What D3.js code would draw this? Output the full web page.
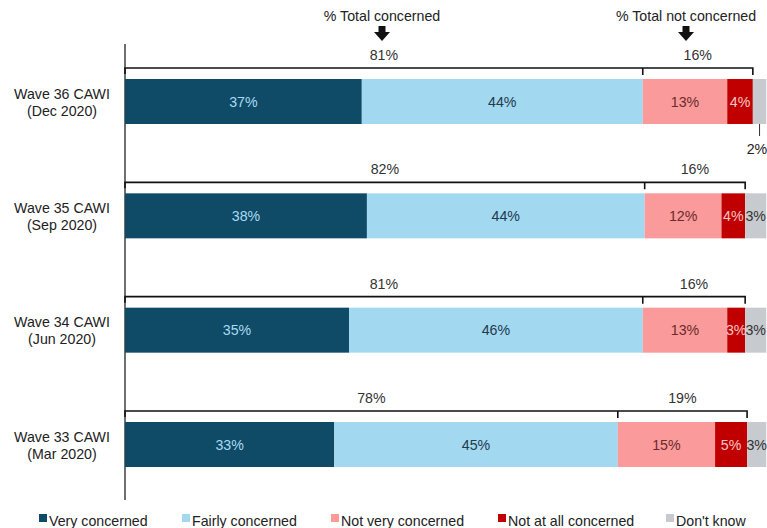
<!DOCTYPE html>
<html>
<head>
<meta charset="utf-8">
<script src="https://cdn.jsdelivr.net/npm/d3@7"></script>
<style>
  body { margin: 0; background: #fff; }
  text { font-family: "Liberation Sans", Arial, sans-serif; }
</style>
</head>
<body>
<div id="chart"></div>
<script>
var width = 767
var height = 528
var fs = "14.2px"

// waves, top to bottom
var waves = ["Wave 36 CAWI", "Wave 35 CAWI", "Wave 34 CAWI", "Wave 33 CAWI"]
var waveDates = ["(Dec 2020)", "(Sep 2020)", "(Jun 2020)", "(Mar 2020)"]

var categories = ["Very concerned", "Fairly concerned", "Not very concerned", "Not at all concerned", "Don't know"]

// segment sizes (%)
var veryConcerned = [37.0, 37.8, 35.0, 32.7]
var fairlyConcerned = [43.9, 43.4, 45.9, 44.3]
var notVeryConcerned = [13.2, 12.0, 13.2, 15.2]
var notAtAllConcerned = [4.0, 3.7, 2.8, 5.0]
var dontKnow = [2.1, 3.3, 3.3, 3.0]

// printed labels
var veryLabels = [37, 38, 35, 33]
var fairlyLabels = [44, 44, 46, 45]
var notVeryLabels = [13, 12, 13, 15]
var notAtAllLabels = [4, 4, 3, 5]
var dontKnowLabels = [2, 3, 3, 3]
var totalConcerned = [81, 82, 81, 78]
var totalNotConcerned = [16, 16, 16, 19]

var colors = ["#0f4a66", "#a3d8f1", "#fa9a9b", "#c00000", "#c7cbcf"]
var labelColors = ["#a9daf2", "#213b4c", "#6b2b2b", "#f7c6c4", "#333333"]

var series = [veryConcerned, fairlyConcerned, notVeryConcerned, notAtAllConcerned, dontKnow]
var labels = [veryLabels, fairlyLabels, notVeryLabels, notAtAllLabels, dontKnowLabels]

var svg = d3.select("#chart").append("svg")
    .attr("width", width)
    .attr("height", height)

var x = d3.scaleLinear().domain([0, 100]).range([125, 765])
var y = d3.scalePoint().domain(waves).range([101.5, 444.5])
var barH = 45

// build stacked rows
var rows = waves.map(function(w, i) {
    var acc = 0
    var segs = series.map(function(s, k) {
        var seg = {k: k, x0: acc, x1: acc + s[i], label: labels[k][i] + "%"}
        acc += s[i]
        return seg
    })
    return {wave: w, date: waveDates[i], i: i, segs: segs}
})

// vertical axis line
svg.append("line")
    .attr("x1", x(0)).attr("x2", x(0))
    .attr("y1", 44).attr("y2", 500)
    .attr("stroke", "#222").attr("stroke-width", 1.3)

var rowG = svg.selectAll(".row")
    .data(rows)
    .enter()
    .append("g")
    .attr("class", "row")
    .attr("transform", function(d) { return "translate(0," + (y(d.wave) - barH / 2) + ")" })

rowG.selectAll("rect")
    .data(function(d) { return d.segs })
    .enter()
    .append("rect")
    .attr("x", function(d) { return x(d.x0) })
    .attr("width", function(d) { return x(d.x1) - x(d.x0) })
    .attr("y", 0)
    .attr("height", barH)
    .attr("fill", function(d) { return colors[d.k] })

// segment labels (the small 2% of wave 36 sits below the bar)
rowG.selectAll(".seglabel")
    .data(function(d) { return d.segs.map(function(s) { s.row = d.i; return s }) })
    .enter()
    .append("text")
    .attr("class", "seglabel")
    .attr("text-anchor", "middle")
    .attr("font-size", fs)
    .attr("x", function(d) {
        if (d.row == 0 && d.k == 4) return 757
        return (x(d.x0) + x(d.x1)) / 2
    })
    .attr("y", function(d) {
        if (d.row == 0 && d.k == 4) return barH + 30
        return barH / 2 + 5
    })
    .attr("fill", function(d) {
        if (d.row == 0 && d.k == 4) return "#222"
        return labelColors[d.k]
    })
    .text(function(d) { return d.label })

// leader line for the 2%
rowG.filter(function(d) { return d.i == 0 })
    .append("line")
    .attr("x1", function(d) { return (x(d.segs[4].x0) + x(d.segs[4].x1)) / 2 })
    .attr("x2", function(d) { return (x(d.segs[4].x0) + x(d.segs[4].x1)) / 2 })
    .attr("y1", barH)
    .attr("y2", barH + 12)
    .attr("stroke", "#333")

// brackets for totals
var brY = -11
rowG.append("path")
    .attr("fill", "none")
    .attr("stroke", "#111")
    .attr("stroke-width", 1.6)
    .attr("d", function(d) {
        var a = x(0), b = x(d.segs[1].x1), c = x(d.segs[3].x1)
        return "M" + a + "," + (brY + 6) + "V" + brY + "H" + c + "V" + (brY + 7) +
               "M" + b + "," + brY + "V" + (brY + 7)
    })

rowG.append("text")
    .attr("text-anchor", "middle")
    .attr("font-size", fs)
    .attr("fill", "#333")
    .attr("x", function(d) { return (x(0) + x(d.segs[1].x1)) / 2 })
    .attr("y", brY - 8)
    .text(function(d) { return totalConcerned[d.i] + "%" })

rowG.append("text")
    .attr("text-anchor", "middle")
    .attr("font-size", fs)
    .attr("fill", "#333")
    .attr("x", function(d) { return (x(d.segs[1].x1) + x(d.segs[3].x1)) / 2 })
    .attr("y", brY - 8)
    .text(function(d) { return totalNotConcerned[d.i] + "%" })

// wave labels
var yl = rowG.append("text")
    .attr("text-anchor", "middle")
    .attr("font-size", fs)
    .attr("fill", "#222")
yl.append("tspan")
    .attr("x", 62).attr("y", barH / 2 - 3)
    .text(function(d) { return d.wave })
yl.append("tspan")
    .attr("x", 62).attr("y", barH / 2 + 14)
    .text(function(d) { return d.date })

// headers with arrows
var headers = [{t: "% Total concerned", cx: 382}, {t: "% Total not concerned", cx: 686}]
var hG = svg.selectAll(".hdr")
    .data(headers)
    .enter()
    .append("g")
    .attr("class", "hdr")
hG.append("text")
    .attr("text-anchor", "middle")
    .attr("font-size", fs)
    .attr("fill", "#222")
    .attr("x", function(d) { return d.cx })
    .attr("y", 21)
    .text(function(d) { return d.t })
hG.append("path")
    .attr("fill", "#111")
    .attr("d", function(d) {
        var c = d.cx
        return "M" + (c - 3.5) + ",26H" + (c + 3.5) + "V32H" + (c + 8) + "L" + c + ",41L" + (c - 8) + ",32H" + (c - 3.5) + "Z"
    })

// legend
var legX = [39, 182, 331, 498, 666]
var leg = svg.selectAll(".leg")
    .data(categories)
    .enter()
    .append("g")
    .attr("class", "leg")
    .attr("transform", function(d, i) { return "translate(" + legX[i] + ",514)" })
leg.append("rect")
    .attr("width", 8).attr("height", 8)
    .attr("y", 0)
    .attr("fill", function(d, i) { return colors[i] })
leg.append("text")
    .attr("x", 10)
    .attr("y", 12)
    .attr("font-size", fs)
    .attr("fill", "#222")
    .text(function(d) { return d })
</script>
</body>
</html>
